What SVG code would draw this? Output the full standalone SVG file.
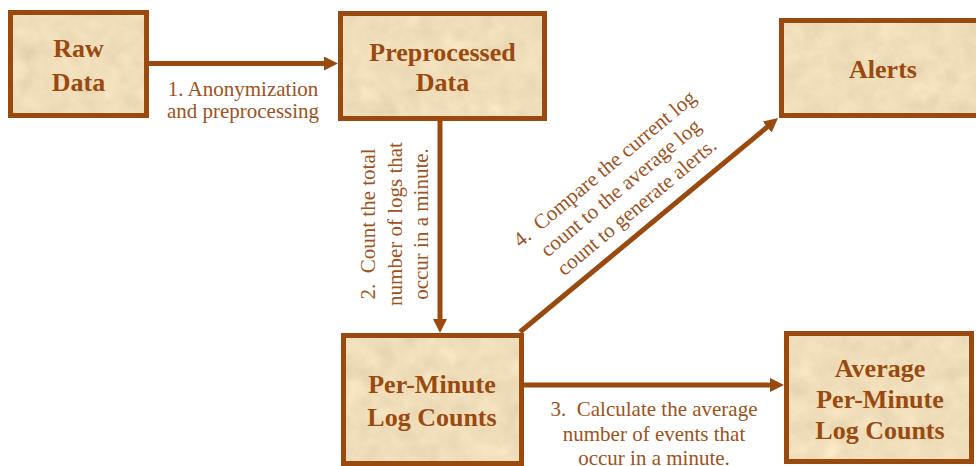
<svg xmlns="http://www.w3.org/2000/svg" width="976" height="466" viewBox="0 0 976 466">
  <defs>
    <!-- parchment texture for the box fills -->
    <filter id="paper" x="0" y="0" width="100%" height="100%" color-interpolation-filters="sRGB">
      <feTurbulence type="fractalNoise" baseFrequency="0.05" numOctaves="4" seed="7" result="noise"/>
      <feColorMatrix in="noise" type="matrix" values="0.33 0.33 0.33 0 0  0.33 0.33 0.33 0 0  0.33 0.33 0.33 0 0  0 0 0 0 1" result="gray"/>
      <feComposite in="SourceGraphic" in2="gray" operator="arithmetic" k1="0" k2="1" k3="0.18" k4="-0.09" result="mix"/>
      <feComposite in="mix" in2="SourceGraphic" operator="in"/>
    </filter>
    <marker id="arrow" viewBox="0 0 14 14" refX="2" refY="7" markerWidth="14" markerHeight="14" markerUnits="userSpaceOnUse" orient="auto">
      <path d="M0,0 L14,7 L0,14 Z" fill="#9A4A0E"/>
    </marker>
    <style>
      .fill { fill: #EFDEB9; filter: url(#paper); }
      .frame { fill: none; stroke: #9A4A0E; stroke-width: 5; }
      .title { font-family: "Liberation Serif", "Times New Roman", serif; font-weight: bold; font-size: 26px; fill: #9A4A10; text-anchor: middle; }
      .label { font-family: "Liberation Serif", "Times New Roman", serif; font-size: 21px; fill: #9E5220; text-anchor: middle; }
      .conn { fill: none; stroke: #9A4A0E; stroke-width: 5; marker-end: url(#arrow); }
    </style>
  </defs>

  <rect width="976" height="466" fill="#FFFFFF"/>

  <!-- nodes -->
  <g id="raw-data">
    <rect class="fill" x="10.5" y="12.5" width="136" height="103"/>
    <rect class="frame" x="10.5" y="12.5" width="136" height="103"/>
    <text class="title" x="78.5" y="57">Raw</text>
    <text class="title" x="78.5" y="91">Data</text>
  </g>

  <g id="preprocessed-data">
    <rect class="fill" x="340.5" y="13.5" width="204" height="105"/>
    <rect class="frame" x="340.5" y="13.5" width="204" height="105"/>
    <text class="title" x="442.5" y="61">Preprocessed</text>
    <text class="title" x="442.5" y="91">Data</text>
  </g>

  <g id="alerts">
    <rect class="fill" x="781.5" y="20.5" width="200" height="95"/>
    <rect class="frame" x="781.5" y="20.5" width="200" height="95"/>
    <text class="title" x="883" y="78">Alerts</text>
  </g>

  <g id="per-minute-log-counts">
    <rect class="fill" x="343.5" y="335.5" width="178" height="128"/>
    <rect class="frame" x="343.5" y="335.5" width="178" height="128"/>
    <text class="title" x="432" y="393">Per-Minute</text>
    <text class="title" x="432" y="426">Log Counts</text>
  </g>

  <g id="average-per-minute-log-counts">
    <rect class="fill" x="786.5" y="333.5" width="185" height="128"/>
    <rect class="frame" x="786.5" y="333.5" width="185" height="128"/>
    <text class="title" x="880" y="377">Average</text>
    <text class="title" x="880" y="408">Per-Minute</text>
    <text class="title" x="880" y="439">Log Counts</text>
  </g>

  <!-- connectors -->
  <g id="connectors">
    <line class="conn" x1="149" y1="63.5" x2="326" y2="63.5"/>
    <line class="conn" x1="440" y1="121" x2="440" y2="321"/>
    <line class="conn" x1="524" y1="385" x2="772" y2="385"/>
    <line class="conn" x1="520" y1="332" x2="768.8" y2="125.7"/>

    <g id="label-1">
      <text class="label" x="243" y="96">1. Anonymization</text>
      <text class="label" x="243" y="118">and preprocessing</text>
    </g>
    <g id="label-2" transform="translate(375,224) rotate(-90)">
      <text class="label" x="0" y="0" xml:space="preserve">2.  Count the total</text>
      <text class="label" x="0" y="26.5">number of logs that</text>
      <text class="label" x="0" y="53">occur in a minute.</text>
    </g>
    <g id="label-3">
      <text class="label" x="654" y="415.5" xml:space="preserve">3.  Calculate the average</text>
      <text class="label" x="654" y="441">number of events that</text>
      <text class="label" x="654" y="465">occur in a minute.</text>
    </g>
    <g id="label-4" transform="translate(625,193) rotate(-40)">
      <text class="label" x="0" y="-25" xml:space="preserve">4.  Compare the current log</text>
      <text class="label" x="0" y="0">count to the average log</text>
      <text class="label" x="0" y="25">count to generate alerts.</text>
    </g>
  </g>
</svg>
